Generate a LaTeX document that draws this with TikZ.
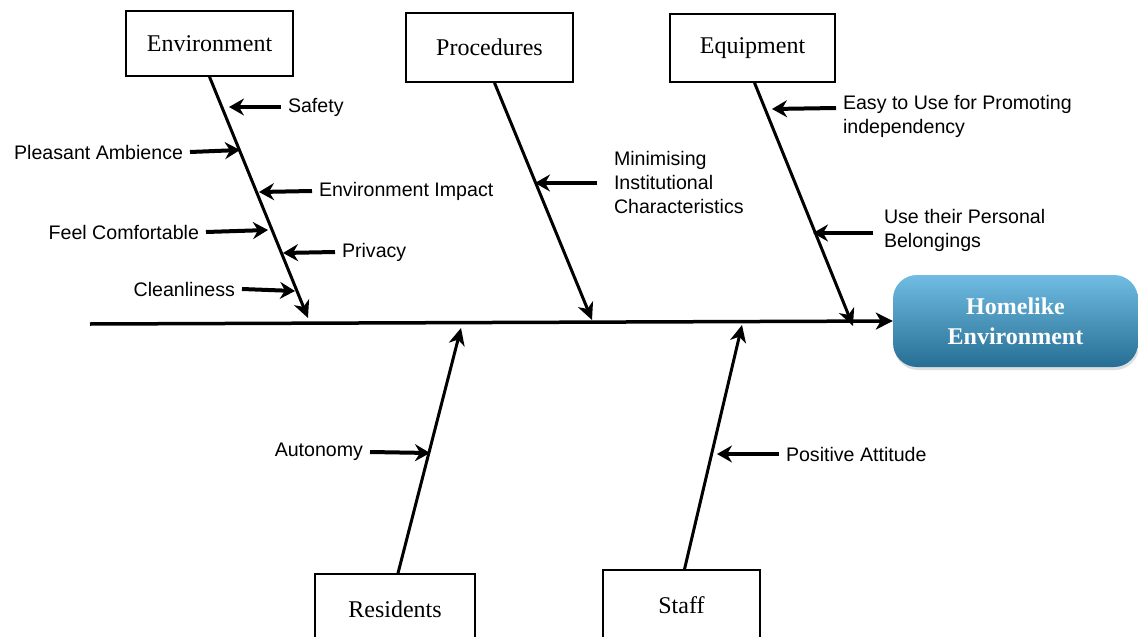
\documentclass[tikz,border=0pt]{standalone}
\usepackage{fontspec}
\setmainfont{Liberation Serif}
\newfontfamily\labelfont{Liberation Sans}
\usepackage{tikz}
\usetikzlibrary{arrows.meta,shadows,positioning,calc}

\begin{document}
\begin{tikzpicture}[x=1pt, y=-1pt,
    catbox/.style={draw, line width=1.6pt, fill=white, font=\fontsize{24}{28}\selectfont, inner sep=0pt},
    cause/.style={font=\labelfont\fontsize{19.6}{24}\selectfont, inner sep=0pt, outer sep=7pt},
    bone/.style={line width=3pt, -{Stealth[length=17pt,width=16pt,inset=5pt]}},
    sub/.style={line width=4pt, -{Stealth[length=15pt,width=17pt,inset=5pt]}},
    spine/.style={line width=3.5pt, -{Stealth[length=17pt,width=17pt,inset=5pt]}},
  ]
    \useasboundingbox (0,0) rectangle (1138,637);
    \clip (0,0) rectangle (1138,637);

    % Effect box on the right
    \node[rounded corners=24pt, minimum width=245pt, minimum height=92pt,
          top color={rgb,255:red,112;green,188;blue,226}, bottom color={rgb,255:red,38;green,110;blue,148},
          drop shadow={opacity=0.25, shadow xshift=1pt, shadow yshift=-3pt},
          text=white, align=center, font=\bfseries\fontsize{24}{30}\selectfont] (home) at (1015.5,321) {Homelike\\Environment};

    % Category boxes (top row)
    \node[catbox, minimum width=167pt, minimum height=65pt] (env) at (209.5,43.5) {Environment};
    \node[catbox, minimum width=167pt, minimum height=69pt] (proc) at (489.5,47.5) {Procedures};
    \node[catbox, minimum width=165pt, minimum height=68pt] (equip) at (752.5,48) {Equipment};

    % Category boxes (bottom row) - cut off by the page edge
    \node[catbox, minimum width=160pt, minimum height=70pt] (res) at (395,609) {Residents};
    \node[catbox, minimum width=157pt, minimum height=70pt] (staff) at (681.5,605) {Staff};

    % Main spine
    \coordinate (tail) at (90,324);
    \draw[spine] (tail) -- (home.west);

    % Bones
    \coordinate (envTip) at (308,318);
    \draw[bone] (env.south) -- (envTip);
    \coordinate (procTip) at (592,320);
    \draw[bone] ([xshift=5pt]proc.south) -- (procTip);
    \coordinate (equipTip) at (853,326);
    \draw[bone] ([xshift=2pt]equip.south) -- (equipTip);
    \coordinate (resTip) at (461,328);
    \draw[bone] ([xshift=3pt]res.north) -- (resTip);
    \coordinate (staffTip) at (742,325);
    \draw[bone] ([xshift=3pt]staff.north) -- (staffTip);

    % Environment causes
    \node[cause, anchor=west] (safety) at (281,107) {Safety};
    \coordinate (safetyTip) at (229,107);
    \draw[sub] (safety.west) -- (safetyTip);

    \node[cause, anchor=east] (ambience) at (190,152) {Pleasant Ambience};
    \coordinate (ambienceTip) at (240,150);
    \draw[sub] (ambience.east) -- (ambienceTip);

    \node[cause, anchor=west] (impact) at (312,191) {Environment Impact};
    \coordinate (impactTip) at (259,192);
    \draw[sub] (impact.west) -- (impactTip);

    \node[cause, anchor=east] (comfort) at (206,232) {Feel Comfortable};
    \coordinate (comfortTip) at (268,230);
    \draw[sub] (comfort.east) -- (comfortTip);

    \node[cause, anchor=west] (privacy) at (335,252) {Privacy};
    \coordinate (privacyTip) at (283,253);
    \draw[sub] (privacy.west) -- (privacyTip);

    \node[cause, anchor=east] (clean) at (242,289) {Cleanliness};
    \coordinate (cleanTip) at (295,291);
    \draw[sub] (clean.east) -- (cleanTip);

    % Procedures cause
    \node[cause, anchor=west, align=left] (minimise) at (607,182) {Minimising\\Institutional\\Characteristics};
    \coordinate (minimiseTip) at (535,183);
    \draw[sub] ([xshift=-10pt,yshift=-1pt]minimise.west) -- (minimiseTip);

    % Equipment causes
    \node[cause, anchor=west, align=left] (easy) at (836,116) {Easy to Use for Promoting\\independency};
    \coordinate (easyTip) at (772,109);
    \draw[sub] ([yshift=8pt]easy.west) -- (easyTip);

    \node[cause, anchor=west, align=left] (belong) at (877,230) {Use their Personal\\Belongings};
    \coordinate (belongTip) at (813,233);
    \draw[sub] ([xshift=-4pt,yshift=-3pt]belong.west) -- (belongTip);

    % Residents and Staff causes
    \node[cause, anchor=east] (autonomy) at (370,452) {Autonomy};
    \coordinate (autonomyTip) at (430,453);
    \draw[sub] (autonomy.east) -- (autonomyTip);

    \node[cause, anchor=west] (attitude) at (779,454) {Positive Attitude};
    \coordinate (attitudeTip) at (717,454);
    \draw[sub] (attitude.west) -- (attitudeTip);
\end{tikzpicture}
\end{document}
